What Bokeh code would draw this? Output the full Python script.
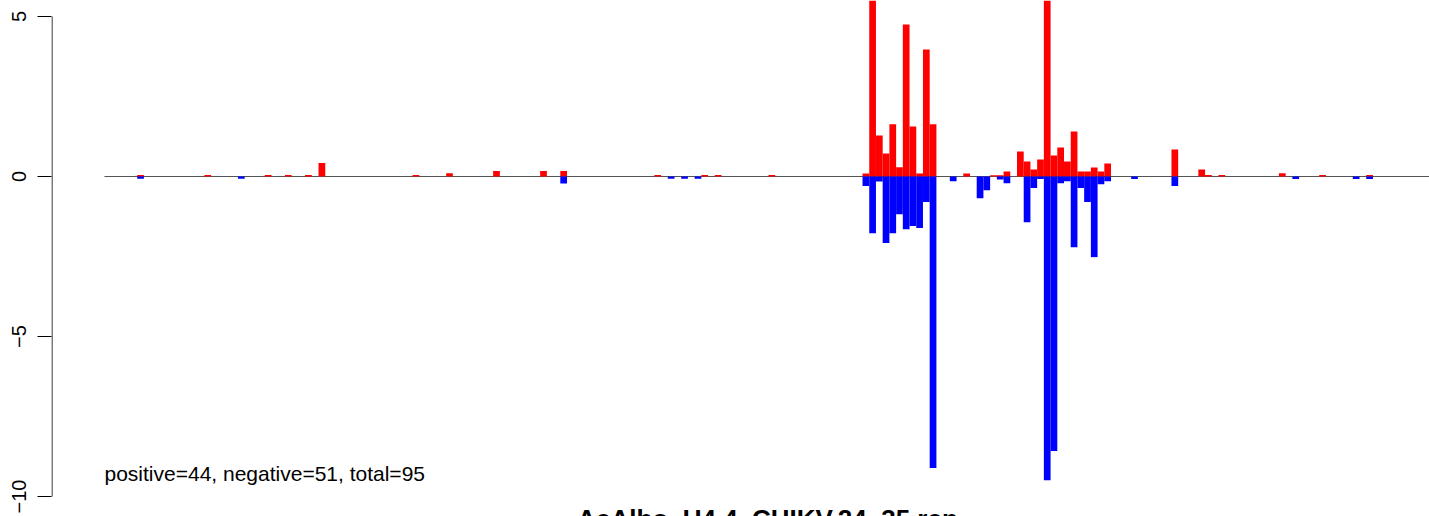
from bokeh.plotting import figure
from bokeh.models import FixedTicker, Range1d, Label
from bokeh.embed import file_html
from bokeh.resources import INLINE

# bin index -> value (positive strand: red, negative strand: blue)
pos_bins = [0, 10, 19, 22, 25, 27, 41, 46, 53, 60, 63, 77, 84, 86, 94,
            108, 109, 110, 111, 112, 113, 114, 115, 116, 117, 118,
            123, 127, 128, 129, 131, 132, 133, 134, 135, 136, 137, 138,
            139, 140, 141, 142, 143, 144, 154, 158, 159, 161, 170, 176, 183]
pos_vals = [0.05, 0.05, 0.05, 0.05, 0.05, 0.42, 0.05, 0.10, 0.17, 0.17, 0.17, 0.05, 0.05, 0.05, 0.05,
            0.09, 6.8, 1.28, 0.72, 1.63, 0.29, 4.75, 1.56, 0.09, 3.97, 1.63,
            0.09, 0.04, 0.04, 0.16, 0.78, 0.47, 0.22, 0.53, 7.5, 0.66, 0.91, 0.47,
            1.41, 0.16, 0.16, 0.28, 0.16, 0.41, 0.84, 0.22, 0.05, 0.05, 0.10, 0.05, 0.05]

neg_bins = [0, 15, 63, 79, 81, 83,
            108, 109, 110, 111, 112, 113, 114, 115, 116, 117, 118,
            121, 125, 126, 128, 129, 132, 133, 134, 135, 136, 137, 138,
            139, 140, 141, 142, 143, 144, 148, 154, 172, 181, 183]
neg_vals = [-0.07, -0.07, -0.22, -0.07, -0.07, -0.07,
            -0.30, -1.77, -0.16, -2.08, -1.77, -1.18, -1.65, -1.55, -1.61, -0.80, -9.11,
            -0.15, -0.68, -0.43, -0.09, -0.21, -1.43, -0.36, -0.08, -9.49, -8.58, -0.21, -0.15,
            -2.21, -0.36, -0.80, -2.52, -0.24, -0.15, -0.08, -0.30, -0.08, -0.08, -0.08]

y_ticks = [-10, -5, 0, 5]
y_tick_labels = {-10: "\u221210", -5: "\u22125", 0: "0", 5: "5"}

summary_text = "positive=44, negative=51, total=95"
title_text = "AeAlbo_U4.4_CHIKV.24_35.rep"

x_start, x_end = -12.76, 192.42
region_left = -4.87

p = figure(width=1429, height=516, output_backend="svg", toolbar_location=None,
           x_range=Range1d(x_start, x_end), y_range=Range1d(-10.625, 5.5),
           x_axis_location=None, min_border_left=51, min_border_right=0,
           min_border_top=0, min_border_bottom=0)
p.outline_line_color = None
p.xgrid.visible = False
p.ygrid.visible = False
p.background_fill_color = "white"
p.border_fill_color = "white"

# baseline
p.line(x=[region_left, x_end], y=[0, 0], line_color="#555555", line_width=1)

p.vbar(x=[b + 0.5 for b in pos_bins], width=1, bottom=0, top=pos_vals,
       fill_color="#FF0000", line_color=None)
p.vbar(x=[b + 0.5 for b in neg_bins], width=1, bottom=0, top=neg_vals,
       fill_color="#0000FF", line_color=None)

# R-style axis line spanning only the tick range
p.line(x=[x_start + 0.08, x_start + 0.08], y=[min(y_ticks), max(y_ticks)],
       line_color="black", line_width=1)

ax = p.yaxis[0]
ax.ticker = FixedTicker(ticks=y_ticks)
ax.major_label_overrides = y_tick_labels
ax.major_label_orientation = "vertical"
ax.major_label_text_font = "Liberation Sans"
ax.major_label_text_font_size = "20px"
ax.major_label_text_color = "black"
ax.major_label_standoff = 12
ax.major_tick_out = 14
ax.major_tick_in = 0
ax.minor_tick_line_color = None
ax.axis_line_color = None
ax.major_tick_line_color = "black"

p.add_layout(Label(x=region_left, y=-9.28, text=summary_text, text_font="Liberation Sans",
                   text_font_size="21px", text_color="black", text_baseline="alphabetic"))
p.add_layout(Label(x=93.85, y=-10.70, text=title_text,
                   text_font="Liberation Sans", text_font_style="bold",
                   text_font_size="26px", text_color="black", text_align="center",
                   text_baseline="alphabetic"))

open("out.html", "w").write(file_html(p, INLINE))
